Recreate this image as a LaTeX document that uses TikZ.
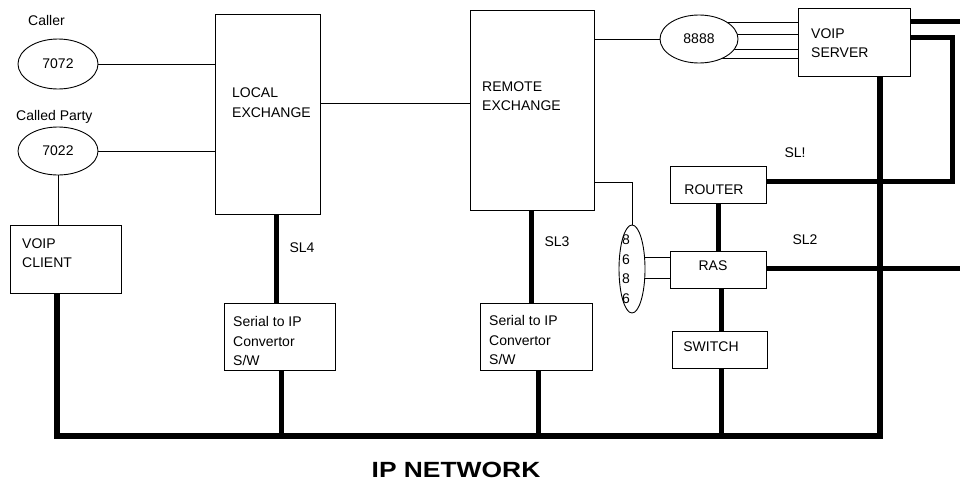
\documentclass[tikz,border=0pt]{standalone}
\usepackage{fontspec}
\setmainfont{Liberation Sans}
\usepackage{tikz}
\usetikzlibrary{positioning,shapes.geometric,backgrounds}
\newcommand{\lbfont}{\fontsize{14}{19.5}\selectfont}

\begin{document}
\begin{tikzpicture}[x=1pt,y=-1pt,
  unit/.style={draw,rectangle,inner sep=0pt,line width=0.9pt},
  phone/.style={draw,ellipse,inner sep=0pt,fill=white,line width=0.9pt,font=\lbfont},
  lbl/.style={font=\lbfont,align=left,inner sep=0pt},
  wire/.style={line width=0.9pt},
  trunk/.style={line width=5pt}]
  \useasboundingbox (0,0) rectangle (960,485);
  % end devices
  \node[phone,minimum width=80pt,minimum height=50pt] (p7072) at (58,64) {7072};
  \node[phone,minimum width=80pt,minimum height=48pt] (p7022) at (58,151) {7022};
  \node[lbl,anchor=west] (caller) at (28,20) {Caller};
  \node[lbl,anchor=west] (called) at (16,117) {Called Party};
  \node[unit,minimum width=111pt,minimum height=68pt] (client) at (65.5,259) {};
  \node[lbl,anchor=west] at (22,253) {VOIP\\CLIENT};
  % exchanges
  \node[unit,minimum width=105pt,minimum height=200pt] (lex) at (267.5,114) {};
  \node[lbl,anchor=west] at (232,102.5) {LOCAL\\EXCHANGE};
  \node[unit,minimum width=124pt,minimum height=200pt] (rex) at (532,110) {};
  \node[lbl,anchor=west] at (482,96) {REMOTE\\EXCHANGE};
  \node[unit,minimum width=111pt,minimum height=67pt] (ser1) at (279.5,336.5) {};
  \node[lbl,anchor=west] at (233,341) {Serial to IP\\Convertor\\S/W};
  \node[unit,minimum width=112pt,minimum height=67pt] (ser2) at (536,336.5) {};
  \node[lbl,anchor=west] at (489,340) {Serial to IP\\Convertor\\S/W};
  % server side
  \node[phone,minimum width=78pt,minimum height=48pt] (e8888) at (699,39) {8888};
  \node[phone,minimum width=26pt,minimum height=88pt] (e6886) at (632,269) {};
  \node[lbl,align=center] at (626,269) {8\\6\\8\\6};
  \node[unit,minimum width=112pt,minimum height=68pt] (srv) at (854,42) {};
  \node[lbl,anchor=west] at (811,43) {\fontsize{14}{22}\selectfont VOIP\\SERVER};
  \node[unit,minimum width=96pt,minimum height=37pt] (rtr) at (718,184.5) {};
  \node[lbl] at (714,190) {ROUTER};
  \node[unit,minimum width=96pt,minimum height=37pt] (ras) at (718,269.5) {};
  \node[lbl] at (713,266) {RAS};
  \node[unit,minimum width=95pt,minimum height=37pt] (swt) at (719.5,349.5) {};
  \node[lbl] at (711,347) {SWITCH};
  % line labels
  \node[lbl] (sl4) at (302,248) {SL4};
  \node[lbl] (sl3) at (557,242) {SL3};
  \node[lbl] (sl1) at (795,153) {SL!};
  \node[lbl] (sl2) at (805,240) {SL2};
  \node[font=\fontsize{22}{26}\selectfont\bfseries,inner sep=0pt] (net) at (456,470) {\scalebox{1.2}[1]{IP NETWORK}};
  \coordinate (busL) at (57,436);
  \coordinate (busR) at (880,436);
  \coordinate (outA) at (960,21);
  \coordinate (outB) at (960,268);
  \coordinate (turn) at (952,37);
  % thin wires
  \draw[wire] (p7072.east) -- (lex.west |- p7072.east);
  \draw[wire] (p7022.east) -- (lex.west |- p7022.east);
  \draw[wire] (p7022.south) -- (p7022.south |- client.north);
  \draw[wire] (lex.east |- 0,103) -- (rex.west |- 0,103);
  \draw[wire] (rex.east |- e8888.west) -- (e8888.west);
  \draw[wire] (rex.east |- 0,182) -- (e6886.north |- 0,182) -- (e6886.north);
  \begin{scope}[on background layer]
    \foreach \yy in {22,34,49,58}
      \draw[wire] (e8888.center |- 0,\yy) -- (srv.west |- 0,\yy);
    \foreach \yy in {257,278}
      \draw[wire] (e6886.center |- 0,\yy) -- (ras.west |- 0,\yy);
  \end{scope}
  % IP network and trunks
  \draw[line width=6pt] (busL |- client.south) -- (busL) -- (busR) -- (busR |- srv.south);
  \draw[trunk] (lex.south -| 276,0) -- (ser1.north -| 276,0);
  \draw[trunk] (ser1.south -| 281,0) -- (busL -| 281,0);
  \draw[trunk] (rex.south -| 531,0) -- (ser2.north -| 531,0);
  \draw[trunk] (ser2.south -| 538,0) -- (busL -| 538,0);
  \draw[trunk] (rtr.south) -- (ras.north);
  \draw[trunk] (ras.south -| 721,0) -- (swt.north -| 721,0);
  \draw[trunk] (swt.south -| 721,0) -- (busL -| 721,0);
  \draw[trunk] (srv.east |- outA) -- (outA);
  \draw[trunk] (srv.east |- turn) -- (turn) -- (turn |- 0,181) -- (rtr.east |- 0,181);
  \draw[trunk] (ras.east |- outB) -- (outB);
\end{tikzpicture}
\end{document}
